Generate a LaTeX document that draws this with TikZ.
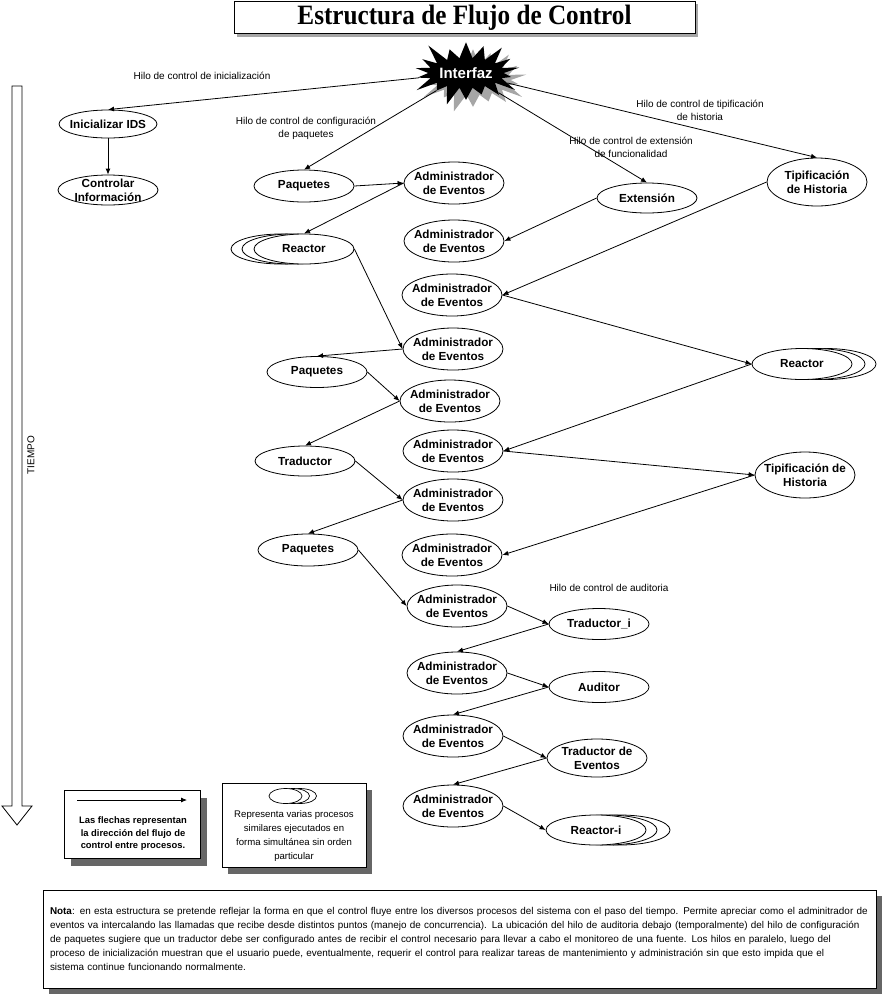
\documentclass[tikz,border=0pt]{standalone}
\usepackage{fontspec}
\setmainfont{Liberation Sans}
\newfontfamily\titulo{Liberation Serif}
\usetikzlibrary{shapes.geometric, shapes.symbols, shadows, arrows.meta}

\begin{document}
\begin{tikzpicture}[x=1pt, y=-1pt,% un punt = un pixel
	proceso/.style={ellipse, draw, fill=white, line width=0.8pt, minimum width=100pt, minimum height=42pt,
		inner xsep=-8pt, inner ysep=-4pt, align=center, font=\fontsize{11.7}{14}\selectfont\bfseries},
	fondo/.style={draw, fill=white, line width=0.8pt},
	hilo/.style={align=center, inner sep=0pt, font=\fontsize{10}{13}\selectfont},
	flujo/.style={line width=0.8pt, -{Latex[length=6pt,width=5pt]}},
	caja/.style={draw, fill=white, line width=0.8pt},
	sombra/.style={drop shadow={shadow xshift=7pt, shadow yshift=-8pt, fill=black!60, opacity=1}}]

\useasboundingbox (0,0) rectangle (885,997);

% El titol i la interfaz
\node [caja, minimum width=461pt, minimum height=31pt,
	drop shadow={shadow xshift=3pt, shadow yshift=-3pt, fill=black!35, opacity=1}] (Titulo) at (464.5,17.5)
	{\scalebox{0.9}[1]{\titulo\bfseries\fontsize{28}{30}\selectfont Estructura de Flujo de Control}};
\node [starburst, starburst points=18, starburst point height=22pt, fill=black, text=white,
	minimum width=90pt, minimum height=74pt, inner sep=0pt, font=\fontsize{15}{17}\selectfont\bfseries,
	drop shadow={shadow xshift=7pt, shadow yshift=-7pt, fill=black!35, opacity=1}] (Interfaz) at (466,73) {Interfaz};

\node [hilo] (hIni)	at (202,76)	{Hilo de control de inicialización};
\node [hilo] (hPaq)	at (306,128)	{Hilo de control de configuración\\de paquetes};
\node [hilo] (hExt)	at (631,147)	{Hilo de control de extensión\\de funcionalidad};
\node [hilo] (hTip)	at (700,110)	{Hilo de control de tipificación\\de historia};
\node [hilo] (hAud)	at (609,588)	{Hilo de control de auditoria};

% El temps
\draw [line width=0.8pt, fill=white] (12,86) -- (22,86) -- (22,806) -- (32,806) -- (17,825) -- (2,806) -- (12,806) -- cycle;
\node [rotate=90, font=\fontsize{10}{12}\selectfont] (Tiempo) at (31,455) {TIEMPO};
%%%%%%%%%%%%%%%%%%%%%%%%%%%%%%%%%%%%%%%%%%%%%%%%%%%%%%%%%%%%%%%%%%%%%%%%%%%%%%%%%%%%%%%%%%%%%%%%%%%%
\node [proceso, minimum width=98pt, minimum height=28pt]	(IniIDS)	at (108,124)	{Inicializar IDS};
\node [proceso, minimum height=30pt]	(CtrlInfo)	at (108,190)	{Controlar\\Información};

\node [proceso, minimum height=32pt]	(Paq1)	at (304,186)	{Paquetes};
\node [proceso]				(Adm1)	at (454,183)	{Administrador\\de Eventos};
\node [proceso, minimum height=30pt]	(Ext)	at (647,198)	{Extensión};
\node [proceso, minimum height=48pt]	(Tip1)	at (817,182)	{Tipificación\\de Historia};
\node [proceso]				(Adm2)	at (454,241)	{Administrador\\de Eventos};
\foreach \x in {281,292}
	\draw [fondo] (\x,249) ellipse [x radius=50, y radius=15];
\node [proceso, minimum height=30pt]	(Reac1)	at (304,249)	{Reactor};
\node [proceso]				(Adm3)	at (452,295)	{Administrador\\de Eventos};
\node [proceso]				(Adm4)	at (453,349)	{Administrador\\de Eventos};
\foreach \x in {826,815}
	\draw [fondo] (\x,364) ellipse [x radius=50, y radius=15.5];
\node [proceso, minimum height=31pt]	(Reac2)	at (802,364)	{Reactor};
\node [proceso, minimum height=31pt]	(Paq2)	at (317,372)	{Paquetes};
\node [proceso]				(Adm5)	at (450,401)	{Administrador\\de Eventos};
\node [proceso]				(Adm6)	at (453,451)	{Administrador\\de Eventos};
\node [proceso, minimum height=30pt]	(Trad)	at (305,461)	{Traductor};
\node [proceso, minimum height=46pt]	(Tip2)	at (805,475)	{Tipificación de\\Historia};
\node [proceso]				(Adm7)	at (453,500)	{Administrador\\de Eventos};
\node [proceso, minimum height=32pt]	(Paq3)	at (308,550)	{Paquetes};
\node [proceso]				(Adm8)	at (452,555)	{Administrador\\de Eventos};
\node [proceso]				(Adm9)	at (457,606)	{Administrador\\de Eventos};
\node [proceso, minimum height=31pt]	(Tri)	at (599,624)	{Traductor\_i};
\node [proceso]				(Adm10)	at (457,673)	{Administrador\\de Eventos};
\node [proceso, minimum height=31pt]	(Aud)	at (599,687)	{Auditor};
\node [proceso]				(Adm11)	at (453,736)	{Administrador\\de Eventos};
\node [proceso, minimum height=38pt]	(TrEv)	at (597,758)	{Traductor de\\Eventos};
\node [proceso]				(Adm12)	at (453,806)	{Administrador\\de Eventos};
\foreach \x in {620,607}
	\draw [fondo] (\x,830) ellipse [x radius=50, y radius=15];
\node [proceso, minimum height=30pt]	(Reaci)	at (596,830)	{Reactor-i};
%%%%%%%%%%%%%%%%%%%%%%%%%%%%%%%%%%%%%%%%%%%%%%%%%%%%%%%%%%%%%%%%%%%%%%%%%%%%%%%%%%%%%%%%%%%%%%%%%%%%
% Llegenda i nota
%%%%%%%%%%%%%%%%%%%%%%%%%%%%%%%%%%%%%%%%%%%%%%%%%%%%%%%%%%%%%%%%%%%%%%%%%%%%%%%%%%%%%%%%%%%%%%%%%%%%
\node [caja, sombra, minimum width=136pt, minimum height=68pt] (Ley1) at (132,824) {};
\coordinate (LeyA) at (77,800);
\coordinate (LeyB) at (187,800);
\node [align=center, font=\fontsize{9.4}{12.5}\selectfont\bfseries] (Ley1txt) at (133,834)
	{Las flechas representan\\la dirección del flujo de\\control entre procesos.};

\node [caja, drop shadow={shadow xshift=6pt, shadow yshift=-7pt, fill=black!60, opacity=1},
	minimum width=144pt, minimum height=84pt] (Ley2) at (294,825) {};
\foreach \x in {300,293,285.5}
	\draw [fondo, line width=0.7pt] (\x,796) ellipse [x radius=16.5, y radius=7.5];
\node [align=center, font=\fontsize{9.6}{13.8}\selectfont] (Ley2txt) at (294,836)
	{Representa varias procesos\\similares ejecutados en\\forma simultánea sin orden\\particular};

\node [caja, drop shadow={shadow xshift=6pt, shadow yshift=-6pt, fill=black!60, opacity=1},
	text width=819pt, inner sep=7pt, minimum height=98pt, align=left, font=\fontsize{9.9}{13.8}\selectfont] (Nota) at (459.5,939)
	{\textbf{Nota}: en esta estructura se pretende reflejar la forma en que el control fluye entre los diversos procesos del sistema con el paso del tiempo. Permite apreciar como el adminitrador de\\
	eventos va intercalando las llamadas que recibe desde distintos puntos (manejo de concurrencia). La ubicación del hilo de auditoria debajo (temporalmente) del hilo de configuración\\
	de paquetes sugiere que un traductor debe ser configurado antes de recibir el control necesario para llevar a cabo el monitoreo de una fuente. Los hilos en paralelo, luego del\\
	proceso de inicialización muestran que el usuario puede, eventualmente, requerir el control para realizar tareas de mantenimiento y administración sin que esto impida que el\\
	sistema continue funcionando normalmente.};
%%%%%%%%%%%%%%%%%%%%%%%%%%%%%%%%%%%%%%%%%%%%%%%%%%%%%%%%%%%%%%%%%%%%%%%%%%%%%%%%%%%%%%%%%%%%%%%%%%%%
% Connexions
%%%%%%%%%%%%%%%%%%%%%%%%%%%%%%%%%%%%%%%%%%%%%%%%%%%%%%%%%%%%%%%%%%%%%%%%%%%%%%%%%%%%%%%%%%%%%%%%%%%%
\draw [flujo] (LeyA) -- (LeyB);
\path [every edge/.style={draw, flujo}]
	(Interfaz)	edge (IniIDS.north)
	(IniIDS)	edge (CtrlInfo)
	(Interfaz)	edge (Paq1.north)
	(Interfaz)	edge (Ext.north)
	(Interfaz)	edge (Tip1.north)

	(Paq1.east)	edge (Adm1.west)
	(Adm1.west)	edge (Reac1.north)
	(Ext.west)	edge (Adm2.east)
	(Tip1.west)	edge (Adm3.east)
	(Reac1.east)	edge (Adm4.west)
	(Adm3.east)	edge (Reac2.west)
	(Adm4.west)	edge (Paq2.north)
	(Paq2.east)	edge (Adm5.west)
	(Adm5.west)	edge (Trad.north)
	(Reac2.west)	edge (Adm6.east)
	(Adm6.east)	edge (Tip2.west)
	(Trad.east)	edge (Adm7.west)
	(Adm7.west)	edge (Paq3.north)
	(Tip2.west)	edge (Adm8.east)
	(Paq3.east)	edge (Adm9.west)

	(Adm9.east)	edge (Tri.west)
	(Tri.west)	edge (Adm10.north)
	(Adm10.east)	edge (Aud.west)
	(Aud.west)	edge (Adm11.north)
	(Adm11.east)	edge (TrEv.west)
	(TrEv.west)	edge (Adm12.north)
	(Adm12.east)	edge (Reaci.west);

\end{tikzpicture}
\end{document}
